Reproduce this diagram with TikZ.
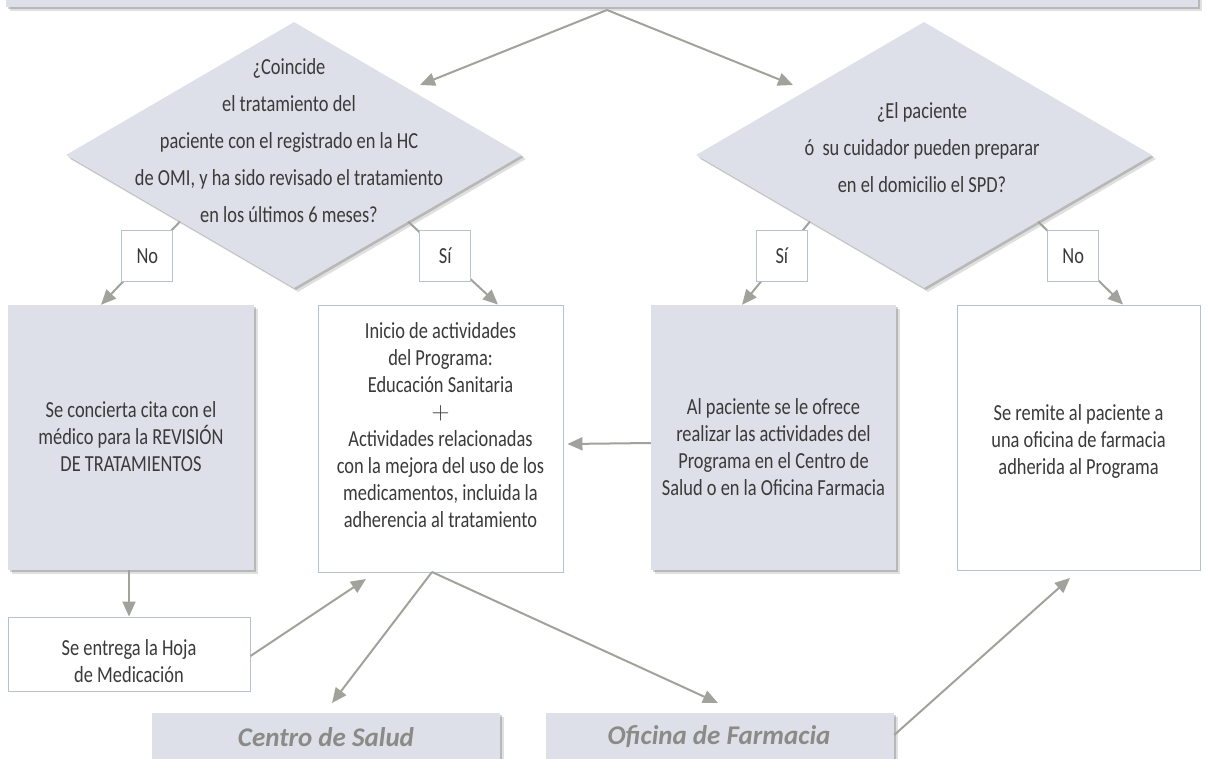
\documentclass[tikz,border=0pt]{standalone}
\usepackage{fontspec}
\setmainfont{Carlito}[FakeStretch=0.8]
\newfontfamily\labfont{Carlito}
\usetikzlibrary{shapes.geometric,shadows,arrows.meta,calc}
\definecolor{boxgray}{HTML}{DDE0E8}
\definecolor{edgeblue}{HTML}{B7C1D4}
\definecolor{arrowgray}{HTML}{A2A29D}
\definecolor{txtcol}{HTML}{3A3A3A}
\definecolor{labgray}{HTML}{8A8A86}
\tikzset{
  softshadow/.style={drop shadow={shadow xshift=2pt,shadow yshift=-2pt,opacity=0.18,fill=black},
                     drop shadow={shadow xshift=4pt,shadow yshift=-4pt,opacity=0.12,fill=black}},
  graybox/.style={rectangle,fill=boxgray,draw=none,inner sep=0pt,softshadow},
  whitebox/.style={rectangle,fill=white,draw=edgeblue,line width=0.9pt,inner sep=0pt},
  decision/.style={diamond,fill=boxgray,draw=none,inner sep=0pt,minimum width=456pt,minimum height=266pt,softshadow},
  boxtext/.style={text=txtcol,align=center,inner sep=0pt,font=\fontsize{23}{27}\selectfont},
  dtext/.style={text=txtcol,align=center,inner sep=0pt,font=\fontsize{23}{37}\selectfont},
  lab/.style={whitebox,minimum width=51pt,minimum height=51pt,text=txtcol,font=\fontsize{23}{26}\selectfont},
  arr/.style={draw=arrowgray,line width=2pt,-{Triangle[length=15pt,width=13pt]}},
  bottomtext/.style={text=labgray,inner sep=0pt,font=\labfont\bfseries\itshape\fontsize{27}{30}\selectfont}
}
\begin{document}
\begin{tikzpicture}[x=1pt,y=-1pt]
\path[use as bounding box] (0,0) rectangle (1206,758);
\clip (0,0) rectangle (1206,758);

% top bar
\node[graybox,minimum width=1192pt,minimum height=60pt] (top) at (602,-23) {};
\coordinate (apex) at (607,10);
\coordinate (ldin) at (420,85);
\coordinate (rdin) at (793,85);

% decisions
\node[decision] (ld) at (294,155) {};
\node[decision] (rd) at (924,155) {};
\node[dtext] (ldt) at (289,141) {¿Coincide\\el tratamiento del\\paciente con el registrado en la HC\\de OMI, y ha sido revisado el tratamiento\\en los últimos 6 meses?};
\node[dtext] (rdt) at (922,148) {¿El paciente\\ó\ \ su cuidador pueden preparar\\en el domicilio el SPD?};

\draw[arr] (apex) -- (ldin);
\draw[arr] (apex) -- (rdin);

% boxes
\node[graybox,minimum width=246pt,minimum height=265pt] (A) at (131,437.5) {};
\node[whitebox,minimum width=245pt,minimum height=267pt] (B) at (440.5,438.5) {};
\node[graybox,minimum width=245pt,minimum height=265pt] (C) at (773.5,437.5) {};
\node[whitebox,minimum width=243pt,minimum height=265pt] (D) at (1078.5,437.5) {};
\node[whitebox,minimum width=242pt,minimum height=74pt] (E) at (129,654) {};
\node[graybox,minimum width=348pt,minimum height=70pt] (cs) at (326,748) {};
\node[graybox,minimum width=348pt,minimum height=70pt] (of) at (720,748) {};

\node[boxtext] (At) at (131,437) {Se concierta cita con el\\médico para la REVISIÓN\\DE TRATAMIENTOS};
\node[boxtext] (Bt) at (440.5,425) {Inicio de actividades\\del Programa:\\Educación Sanitaria\\$+$\\Actividades relacionadas\\con la mejora del uso de los\\medicamentos, incluida la\\adherencia al tratamiento};
\node[boxtext] (Ct) at (773.5,447) {Al paciente se le ofrece\\realizar las actividades del\\Programa en el Centro de\\Salud o en la Oficina Farmacia};
\node[boxtext] (Dt) at (1078.5,441) {Se remite al paciente a\\una oficina de farmacia\\adherida al Programa};
\node[boxtext] (Et) at (129,661) {Se entrega la Hoja\\de Medicación};
\node[bottomtext] (cst) at (326,737) {Centro de Salud};
\node[bottomtext] (oft) at (719,737) {Oficina de Farmacia};

% decision branches with labels
\draw[arr] ($(ld.south)!0.5!(ld.west)$) -- node[lab,pos=0.413] (l1) {No} ([xshift=-30pt]A.north);
\draw[arr] ($(ld.south)!0.5!(ld.east)$) -- node[lab,pos=0.413] (l2) {Sí} ([xshift=57.5pt]B.north);
\draw[arr] ($(rd.south)!0.5!(rd.west)$) -- node[lab,pos=0.413] (l3) {Sí} ([xshift=-31.5pt]C.north);
\draw[arr] ($(rd.south)!0.5!(rd.east)$) -- node[lab,pos=0.413] (l4) {No} ([xshift=44.5pt]D.north);

% other connectors
\draw[arr] ([yshift=-5.5pt]C.west) -- ([xshift=4pt,yshift=-5.5pt]B.east);
\draw[arr] (A.south -| E.north) -- (E.north);
\coordinate (Bin) at (366,579);
\draw[arr] ([yshift=-2pt]E.east) -- (Bin);
\coordinate (Bout) at (432,572);
\draw[arr] (Bout) -- (332,703) coordinate (csin);
\draw[arr] (Bout) -- (718,703) coordinate (ofin);
\coordinate (Din) at (1070,578);
\draw[arr] ([yshift=13pt]of.east) -- (Din);
\end{tikzpicture}
\end{document}
